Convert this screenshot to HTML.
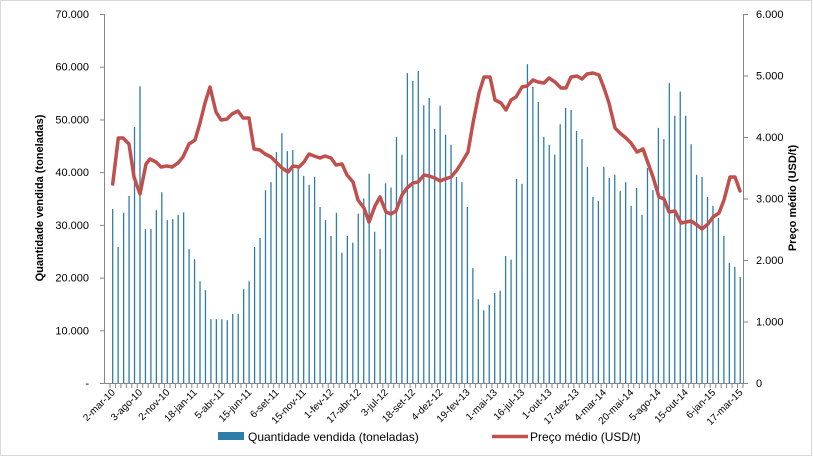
<!DOCTYPE html>
<html><head><meta charset="utf-8"><style>
html,body{margin:0;padding:0;background:#fff}
svg{display:block}
text{font-family:"Liberation Sans",Arial,sans-serif;fill:#000}
</style></head><body>
<svg id="c" width="813" height="457" xmlns="http://www.w3.org/2000/svg">
<rect x="0.5" y="0.5" width="811" height="455" fill="#fff" stroke="#d9d9d9"/>
<g id="bars" stroke="#2e7da8" stroke-width="1.3"></g>
<g stroke="#868686" stroke-width="1" fill="none">
<line x1="104.5" y1="14" x2="104.5" y2="383"/>
<line x1="743.5" y1="14" x2="743.5" y2="383"/>
<line x1="104" y1="383.5" x2="744" y2="383.5"/>
<g id="ticks"></g>
</g>
<polyline id="price" fill="none" stroke="#c0504d" stroke-width="3.5" stroke-linejoin="round" stroke-linecap="round"/>
<g id="labels" font-size="11"></g>
<text transform="translate(43,198) rotate(-90)" font-size="11" font-weight="bold" text-anchor="middle">Quantidade vendida (toneladas)</text>
<text transform="translate(796,198) rotate(-90)" font-size="11" font-weight="bold" text-anchor="middle">Preço médio (USD/t)</text>
<rect x="218" y="432" width="26" height="8" fill="#2e7da8"/>
<text x="248" y="441" font-size="12">Quantidade vendida (toneladas)</text>
<line x1="492" y1="436.5" x2="528" y2="436.5" stroke="#c0504d" stroke-width="3.5"/>
<text x="530" y="441" font-size="12">Preço médio (USD/t)</text>
</svg>
<script>
var v=[33,25.8,32.3,35.5,48.6,56.3,29.2,29.2,32.8,36.2,30.9,31.1,31.9,32.4,25.4,23.5,19.3,17.6,12.1,12.1,12.1,11.9,13.1,13.1,17.8,19.3,25.8,27.5,36.6,38.1,43.8,47.4,44,44.2,40.8,39.3,37.6,39.1,
33.4,30.9,27.9,32.3,24.7,27.9,26.6,32.1,35,39.7,28.7,25.4,37.9,37.1,46.7,43.3,58.8,57.3,59.2,52.7,54.1,48.2,52.6,47.1,45.2,39.1,38.1,33.4,21.8,15.9,13.8,14.8,17.1,17.5,24.1,23.4,38.7,37.8,60.5,56.2,
53.3,46.7,45.2,43.3,49.1,52.2,51.8,47.8,46.3,41,35.3,34.5,41,38.9,39.5,36.4,38.1,33.6,37,31.9,40.8,36.6,48.4,46.3,56.9,50.7,55.3,50.7,45.3,39.5,39.1,35.3,33.6,31.3,27.9,22.8,22,20.1];
var ns="http://www.w3.org/2000/svg",dx=5.457,x0=112.7;
function el(t,a,p,txt){var e=document.createElementNS(ns,t);for(var k in a)e.setAttribute(k,a[k]);if(txt)e.textContent=txt;document.getElementById(p).appendChild(e);return e;}
for(var i=0;i<v.length;i++){var x=x0+i*dx;el('line',{x1:x,x2:x,y1:383,y2:383-v[i]*5.271},'bars');}
for(var i=0;i<=v.length;i++){var x=x0-dx/2+i*dx;el('line',{x1:x,x2:x,y1:383,y2:388},'ticks');}
for(var k=0;k<=7;k++){var y=383-k*52.71;el('line',{x1:100,x2:104,y1:y+0.5,y2:y+0.5},'ticks');el('text',{x:89,y:y+4,'text-anchor':'end','font-size':11},'labels',k==0?'-':(k*10)+'.000');}
for(var k=0;k<=6;k++){var y=383-k*61.5;el('line',{x1:743,x2:748,y1:y+0.5,y2:y+0.5},'ticks');el('text',{x:756,y:y+4,'font-size':11},'labels',k==0?'0':k+'.000');}
var L=['2-mar-10','3-ago-10','2-nov-10','18-jan-11','5-abr-11','15-jun-11','6-set-11','15-nov-11','1-fev-12','17-abr-12','3-jul-12','18-set-12','4-dez-12','19-fev-13','1-mai-13','16-jul-13','1-out-13','17-dez-13','4-mar-14','20-mai-14','5-ago-14','15-out-14','6-jan-15','17-mar-15'];
/* only 20 labels fit: pick evenly every 6 categories */
var lab=['2-mar-10','3-ago-10','2-nov-10','18-jan-11','5-abr-11','15-jun-11','6-set-11','15-nov-11','1-fev-12','17-abr-12','3-jul-12','18-set-12','4-dez-12','19-fev-13','1-mai-13','16-jul-13','1-out-13','17-dez-13','4-mar-14','20-mai-14','5-ago-14','15-out-14','6-jan-15','17-mar-15'];
var n=lab.length,sp=(740.3-112.7)/(n-1);
for(var i=0;i<n;i++){var x=112.7+i*sp+3;el('text',{transform:'translate('+x+',393) rotate(-45)','text-anchor':'end','font-size':10},'labels',lab[i]);}
var p=[[112.7,184],[118.3,138],[123,138],[129,144],[134,177],[140,194],[146,164],[150,159],[156,162],[161,167],[167,166],[172,167],[178,163],[183,157],[189,144],[195,140],[200,123],[205,103],[210,87],[216,112],[221,120],[227,119],[232,114],[238,111],[243,118],[249,118],[254,149],[260,150],[265,154],[271,157],[277,163],[282,168],[288,172],[293,166],[299,167],[304,162],[309,154],[314,156],[320,158],[325,156],[331,158],[336,165],[342,164],[347,175],[353,182],[358,200],[364,208],[369,222],[375,206],[380,197],[386,212],[391,214],[396,211],[402,195],[407,188],[413,183],[418,182],[424,175],[429,176],[435,178],[440,181],[445,179],[451,177],[457,170],[462,162],[468,152],[473,123],[479,93],[484,77],[490,77],[495,100],[501,103],[506,110],[511,100],[516,97],[522,87],[527,86],[533,80],[538,82],[544,83],[549,78],[555,82],[561,88],[566,88],[571,77],[577,76],[582,79],[587,74],[593,73],[599,75],[604,88],[609,103],[615,128],[620,133],[626,138],[631,143],[637,152],[643,149],[648,163],[653,177],[659,197],[664,199],[669,212],[675,211],[681,223],[686,222],[691,221],[697,225],[702,229],[708,224],[713,217],[719,213],[724,200],[730,177],[735,177],[740,191]];
document.getElementById('price').setAttribute('points',p.map(function(a){return a.join(',')}).join(' '));
</script>
</body></html>
